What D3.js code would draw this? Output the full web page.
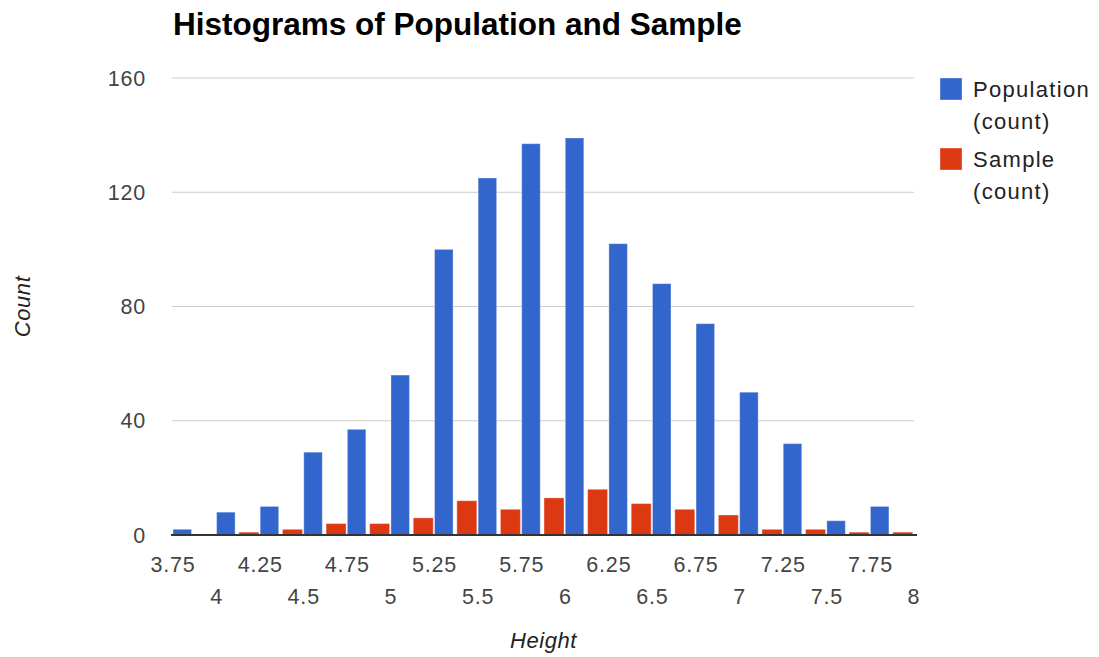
<!DOCTYPE html>
<html>
<head>
<meta charset="utf-8">
<script src="https://cdnjs.cloudflare.com/ajax/libs/d3/7.8.5/d3.min.js"></script>
<style>
  html, body { margin: 0; padding: 0; background: #fff; }
  svg { display: block; font-family: "Liberation Sans", Arial, sans-serif; }
</style>
</head>
<body>
<svg id="chart" width="1099" height="657"></svg>
<script>
// ---- data ----
const binStarts = [3.75, 4, 4.25, 4.5, 4.75, 5, 5.25, 5.5, 5.75, 6, 6.25, 6.5, 6.75, 7, 7.25, 7.5, 7.75];
const populationCounts = [2, 8, 10, 29, 37, 56, 100, 125, 137, 139, 102, 88, 74, 50, 32, 5, 10];
const sampleCounts = [0, 1, 2, 4, 4, 6, 12, 9, 13, 16, 11, 9, 7, 2, 2, 1, 1];
const xTickLabels = ["3.75", "4", "4.25", "4.5", "4.75", "5", "5.25", "5.5", "5.75", "6", "6.25", "6.5", "6.75", "7", "7.25", "7.5", "7.75", "8"];
const yTicks = [0, 40, 80, 120, 160];
const seriesNames = ["Population (count)", "Sample (count)"];
const seriesColors = ["#3366cc", "#dc3912"];
const binWidth = 0.25;

// ---- layout ----
const svg = d3.select("#chart");
const plotLeft = 173, plotRight = 914, plotTop = 78, plotBottom = 535;

const x = d3.scaleLinear().domain([3.75, 8]).range([plotLeft, plotRight]);
const y = d3.scaleLinear().domain([0, 160]).range([plotBottom, plotTop]);

// gridlines
svg.append("g")
  .selectAll("line")
  .data(yTicks.filter(d => d !== 0))
  .join("line")
  .attr("x1", plotLeft - 1).attr("x2", plotRight)
  .attr("y1", d => y(d)).attr("y2", d => y(d))
  .attr("stroke", "#cccccc").attr("stroke-width", 1);

// y tick labels
svg.append("g")
  .selectAll("text")
  .data(yTicks)
  .join("text")
  .attr("x", 146).attr("y", d => y(d))
  .attr("dy", "0.36em")
  .attr("text-anchor", "end")
  .attr("font-size", 21.5)
  .attr("letter-spacing", 0.8)
  .attr("fill", "#444")
  .text(d => d);

// bars
const series = [populationCounts, sampleCounts];
const offsets = [[0, 0.425], [0.512, 0.97]];
series.forEach((vals, si) => {
  svg.append("g")
    .selectAll("rect")
    .data(binStarts.map((b, i) => ({ b, v: vals[i] })))
    .join("rect")
    .attr("x", d => x(d.b + offsets[si][0] * binWidth))
    .attr("width", d => x(d.b + offsets[si][1] * binWidth) - x(d.b + offsets[si][0] * binWidth))
    .attr("y", d => y(d.v))
    .attr("height", d => y(0) - y(d.v))
    .attr("fill", seriesColors[si])
    .attr("stroke", "#ffffff").attr("stroke-opacity", 0.35).attr("stroke-width", 1);
});

// baseline
svg.append("line")
  .attr("x1", plotLeft - 2).attr("x2", plotRight + 3)
  .attr("y1", y(0)).attr("y2", y(0))
  .attr("stroke", "#333").attr("stroke-width", 2);

// x tick labels (two staggered rows)
svg.append("g")
  .selectAll("text")
  .data(xTickLabels)
  .join("text")
  .attr("x", d => x(+d))
  .attr("y", (d, i) => i % 2 === 0 ? 572 : 604)
  .attr("text-anchor", "middle")
  .attr("font-size", 21.5)
  .attr("letter-spacing", 0.8)
  .attr("fill", "#444")
  .text(d => d);

// title
svg.append("text")
  .attr("x", plotLeft).attr("y", 35)
  .attr("font-size", 31.5).attr("font-weight", "bold")
  .attr("fill", "#000")
  .text("Histograms of Population and Sample");

// axis titles
svg.append("text")
  .attr("x", (plotLeft + plotRight) / 2).attr("y", 648)
  .attr("text-anchor", "middle")
  .attr("font-size", 22).attr("font-style", "italic")
  .attr("letter-spacing", 0.6)
  .attr("fill", "#222")
  .text("Height");

svg.append("text")
  .attr("transform", `translate(30, ${(plotTop + plotBottom) / 2}) rotate(-90)`)
  .attr("text-anchor", "middle")
  .attr("font-size", 22).attr("font-style", "italic")
  .attr("letter-spacing", 0.6)
  .attr("fill", "#222")
  .text("Count");

// legend
const legend = svg.append("g");
seriesNames.forEach((name, i) => {
  const g = legend.append("g").attr("transform", `translate(940, ${78 + i * 70})`);
  g.append("rect").attr("width", 22).attr("height", 22)
    .attr("fill", seriesColors[i])
    .attr("stroke", "#ffffff").attr("stroke-opacity", 0.35);
  const parts = name.split(" ");
  g.append("text").attr("x", 33).attr("y", 19)
    .attr("font-size", 22).attr("letter-spacing", 1.3).attr("fill", "#222").text(parts[0]);
  g.append("text").attr("x", 33).attr("y", 51)
    .attr("font-size", 22).attr("letter-spacing", 1.3).attr("fill", "#222").text(parts[1]);
});
</script>
</body>
</html>
